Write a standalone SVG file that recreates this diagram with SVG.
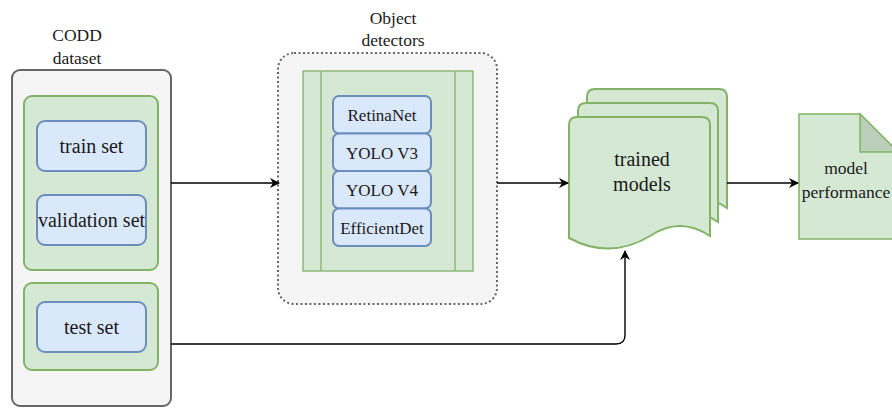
<svg xmlns="http://www.w3.org/2000/svg" width="892" height="410" viewBox="0 0 892 410">
<defs>
<style>
text{font-family:"Liberation Serif","DejaVu Serif","Noto Serif",serif;fill:#1a1a1a;text-anchor:middle}
.lbl{font-size:17.5px}
.big{font-size:20px}
.det{font-size:17px}
.green{fill:#d5e8d4;stroke:#82b366;stroke-width:2}
.blue{fill:#dae8fc;stroke:#6c8ebf;stroke-width:2}
.conn{fill:none;stroke:#000;stroke-width:1.4}
</style>
<marker id="arr" viewBox="0 0 10 10" refX="9" refY="5" markerWidth="10" markerHeight="10" markerUnits="userSpaceOnUse" orient="auto">
<path d="M0,0 L10,5 L0,10 L3,5 Z" fill="#000"/>
</marker>
</defs>
<rect width="892" height="410" fill="#fff"/>

<g id="dataset">
<text class="lbl" x="77" y="41">CODD</text>
<text class="lbl" x="77" y="64">dataset</text>
<rect x="12" y="70" width="159" height="336" rx="8" fill="#f5f5f5" stroke="#666" stroke-width="2"/>
<rect class="green" x="24" y="96" width="134" height="174" rx="8"/>
<rect class="green" x="24" y="283" width="134" height="87" rx="8"/>
</g>
<g id="train-set">
<rect class="blue" x="37" y="121" width="109" height="50" rx="8"/>
<text class="big" x="91.5" y="153">train set</text>
</g>
<g id="validation-set">
<rect class="blue" x="37" y="195" width="109" height="50" rx="8"/>
<text class="big" x="91.5" y="227">validation set</text>
</g>
<g id="test-set">
<rect class="blue" x="37" y="302" width="109" height="50" rx="8"/>
<text class="big" x="91.5" y="334">test set</text>
</g>

<g id="object-detectors">
<text class="lbl" x="393" y="24">Object</text>
<text class="lbl" x="393" y="46">detectors</text>
<rect x="278" y="53" width="219" height="251" rx="16" fill="#f5f5f5" stroke="#666" stroke-width="2" stroke-dasharray="2 2.5"/>
<rect x="303" y="71" width="170" height="200" fill="#d5e8d4" stroke="#82b366" stroke-width="1.3"/>
<line x1="321" y1="71" x2="321" y2="271" stroke="#82b366" stroke-width="1.3"/>
<line x1="455" y1="71" x2="455" y2="271" stroke="#82b366" stroke-width="1.3"/>
</g>
<g id="retinanet">
<rect class="blue" x="333" y="96" width="98" height="37.5" rx="6" stroke-width="1.5"/>
<text class="det" x="382" y="121">RetinaNet</text>
</g>
<g id="yolov3">
<rect class="blue" x="333" y="133.5" width="98" height="37.5" rx="6" stroke-width="1.5"/>
<text class="det" x="382" y="158.5">YOLO V3</text>
</g>
<g id="yolov4">
<rect class="blue" x="333" y="171" width="98" height="37.5" rx="6" stroke-width="1.5"/>
<text class="det" x="382" y="196">YOLO V4</text>
</g>
<g id="efficientdet">
<rect class="blue" x="333" y="208.5" width="98" height="37.5" rx="6" stroke-width="1.5"/>
<text class="det" x="382" y="234">EfficientDet</text>
</g>

<g id="trained-models">
<path class="green" d="M587,97 Q587,89 595,89 L719,89 Q727,89 727,97 L727,208 Q697,188 667,208 Q629,232 587,210 Z"/>
<path class="green" d="M578,111 Q578,103 586,103 L710,103 Q718,103 718,111 L718,222 Q688,202 658,222 Q620,246 578,224 Z"/>
<path class="green" d="M569,125 Q569,117 577,117 L702,117 Q710,117 710,125 L710,236 Q680,216 650,236 Q610,260 569,238 Z"/>
<text class="big" x="642" y="166">trained</text>
<text class="big" x="642" y="191">models</text>
</g>

<g id="model-performance">
<path d="M799,114 L860,114 L898,152 L898,239 L799,239 Z" fill="#d5e8d4" stroke="#82b366" stroke-width="1.5"/>
<path d="M860,114 L860,152 L898,152 Z" fill="#bccfbb" stroke="#82b366" stroke-width="1.5"/>
<text class="lbl" x="846" y="174">model</text>
<text class="lbl" x="846" y="198">performance</text>
</g>

<g id="connectors">
<path class="conn" d="M171,183 L279,183" marker-end="url(#arr)"/>
<path class="conn" d="M497,183 L568,183" marker-end="url(#arr)"/>
<path class="conn" d="M727,183 L798,183" marker-end="url(#arr)"/>
<path class="conn" d="M171,344 L616,344 Q625,344 625,335 L625,251" marker-end="url(#arr)"/>
</g>
</svg>
